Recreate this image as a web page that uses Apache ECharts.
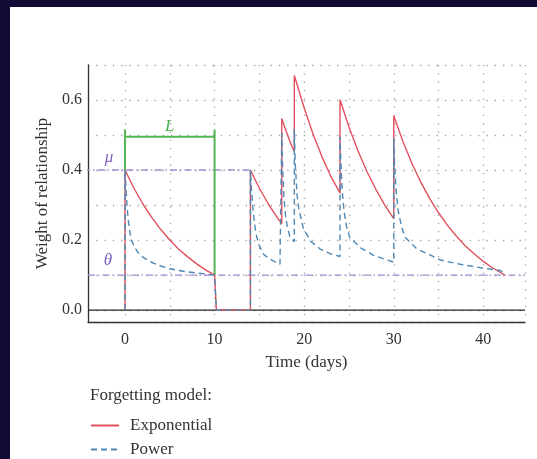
<!DOCTYPE html>
<html><head><meta charset="utf-8">
<script src="https://cdn.jsdelivr.net/npm/echarts@6/dist/echarts.min.js"></script>
<style>
html,body{margin:0;padding:0;background:#110b36;width:537px;height:459px;overflow:hidden}
#c{position:absolute;left:10px;top:7px;width:527px;height:452px;background:#fff}
</style></head><body><div id="c"></div>
<script>
// ---- data ----
const xTickLabels = [0, 10, 20, 30, 40];
const yTickLabels = [0, 0.2, 0.4, 0.6];
const xRange = [-4.13, 44.65];
const yRange = [-0.034, 0.7];
const muValue = 0.4;
const thetaValue = 0.1;
const legendNames = ['Exponential', 'Power'];

const exponentialData = [
  [0,0],[0,0.400],[1,0.348],[2,0.303],[3,0.264],[4,0.230],[5,0.200],[6,0.174],[7,0.152],[8,0.132],[9,0.115],[10,0.100],[10.2,0],
  [14,0],[14,0.400],[15,0.348],[16,0.303],[17,0.264],[17.5,0.247],
  [17.5,0.547],[18,0.510],[18.5,0.476],[18.9,0.452],
  [18.9,0.670],[19,0.662],[20,0.577],[21,0.502],[22,0.437],[23,0.381],[24,0.334],
  [24,0.601],[25,0.523],[26,0.455],[27,0.396],[28,0.345],[29,0.300],[30,0.261],
  [30,0.555],[31,0.483],[32,0.421],[33,0.366],[34,0.319],[35,0.278],[36,0.242],[37,0.211],[38,0.183],[39,0.160],[40,0.139],[41,0.121],[42,0.106],[42.4,0.100]
];

const powerData = [
  [0,0],[0,0.400],[0.1,0.350],[0.2,0.310],[0.35,0.260],[0.56,0.220],[0.8,0.195],[1.1,0.178],[1.5,0.163],[2,0.151],[3,0.136],[4,0.126],[5,0.118],[6,0.113],[7,0.109],[8,0.106],[9,0.103],[10,0.100],[10.2,0],
  [14,0],[14,0.400],[14.1,0.350],[14.3,0.283],[14.6,0.220],[14.9,0.189],[15.45,0.160],[16,0.148],[16.6,0.140],[17.3,0.131],[17.5,0.129],
  [17.5,0.506],[17.6,0.400],[17.75,0.320],[17.9,0.274],[18.1,0.240],[18.4,0.210],[18.9,0.195],
  [18.9,0.517],[19.0,0.420],[19.2,0.330],[19.4,0.290],[19.9,0.234],[20.7,0.197],[21.8,0.174],[22.9,0.161],[24,0.153],
  [24,0.495],[24.1,0.420],[24.25,0.340],[24.45,0.283],[24.75,0.235],[25.1,0.207],[26.3,0.178],[27.7,0.157],[29,0.145],[30,0.137],
  [30,0.490],[30.1,0.410],[30.3,0.330],[30.5,0.283],[30.9,0.235],[31.3,0.207],[32.6,0.174],[34.1,0.157],[35.2,0.143],[37.4,0.131],[39.7,0.121],[41.9,0.113],[42.4,0.103]
];

const lBracket = [[0,0.4],[0,0.516],[0,0.495],[5,0.495],[10,0.495],[10,0.516],[10,0.1]];
const muLine = [[-4.7, muValue], [14, muValue]];
const thetaLine = [[xRange[0], thetaValue], [xRange[1], thetaValue]];
const zeroLine = [[xRange[0], 0], [xRange[1], 0]];

// ---- chart ----
const FONT = '"Liberation Serif", "Times New Roman", serif';
const TXT = '#333';
const dotted = { color: '#a3a3a3', width: 1.3, type: [1.3, 7] };
function near(v, arr) { return arr.some(t => Math.abs(v - t) < 1e-6); }

const chart = echarts.init(document.getElementById('c'), null, { renderer: 'canvas' });

function labelled(arr, idx, lab) {
  return arr.map((p, i) => i === idx ? { value: p, label: lab } : p);
}

function legendFor(name, top) {
  return {
    orient: 'horizontal', left: 80, top: top, padding: 0,
    itemWidth: 28, itemHeight: 14,
    itemStyle: { color: 'rgba(0,0,0,0)', borderColor: 'rgba(0,0,0,0)', borderWidth: 0 },
    textStyle: { fontFamily: FONT, fontSize: 17, color: TXT, padding: [0, 0, 0, 6] },
    data: [name], selectedMode: false
  };
}

const option = {
  animation: false,
  backgroundColor: '#fff',
  title: {
    text: 'Forgetting model:', left: 80, top: 380, padding: 0,
    textStyle: { fontFamily: FONT, fontSize: 17, fontWeight: 'normal', color: TXT }
  },
  legend: [legendFor(legendNames[0], 410), legendFor(legendNames[1], 434)],
  grid: { left: 78, top: 58, right: 12, bottom: 137 },
  xAxis: {
    type: 'value', min: xRange[0], max: xRange[1],
    name: 'Time (days)', nameLocation: 'middle', nameGap: 32,
    nameTextStyle: { fontFamily: FONT, fontSize: 17, color: TXT },
    axisLine: { show: true, onZero: false, lineStyle: { color: '#333', width: 1.3 } },
    axisTick: { show: false },
    axisLabel: {
      formatter: v => near(v, xTickLabels) ? String(Math.round(v)) : '',
      fontFamily: FONT, fontSize: 16, color: TXT, margin: 10
    },
    splitLine: { show: true, lineStyle: dotted },
    minorTick: { show: false, splitNumber: 2 },
    minorSplitLine: { show: true, lineStyle: dotted }
  },
  yAxis: {
    type: 'value', min: yRange[0], max: yRange[1],
    name: 'Weight of relationship', nameLocation: 'middle', nameGap: 36,
    nameTextStyle: { fontFamily: FONT, fontSize: 17, color: TXT },
    axisLine: { show: true, onZero: false, lineStyle: { color: '#333', width: 1.3 } },
    axisTick: { show: false },
    axisLabel: {
      formatter: v => near(v, yTickLabels) ? v.toFixed(1) : '',
      fontFamily: FONT, fontSize: 16, color: TXT, margin: 6
    },
    splitLine: { show: true, lineStyle: dotted }
  },
  series: [
    {
      name: 'zero', type: 'line', data: zeroLine, symbol: 'none', silent: true,
      lineStyle: { color: '#222', width: 1.3 }, z: 1
    },
    {
      name: 'theta', type: 'line', silent: true,
      data: labelled(thetaLine, 0, { show: true, formatter: 'θ', position: 'top', offset: [20, -1],
        fontFamily: FONT, fontStyle: 'italic', fontSize: 17, color: '#7d5fbb' }),
      symbol: 'circle', symbolSize: 0, showSymbol: true,
      lineStyle: { color: '#a48bcf', width: 1.4, type: [7, 3, 1.5, 3] }, z: 2
    },
    {
      name: 'mu', type: 'line', silent: true, clip: false,
      data: labelled(muLine, 0, { show: true, formatter: 'μ', position: 'top', offset: [26, 1],
        fontFamily: FONT, fontStyle: 'italic', fontSize: 17, color: '#7d5fbb' }),
      symbol: 'circle', symbolSize: 0, showSymbol: true,
      lineStyle: { color: '#a48bcf', width: 1.4, type: [7, 3, 1.5, 3] }, z: 2
    },
    {
      name: 'L', type: 'line', silent: true,
      data: labelled(lBracket, 3, { show: true, formatter: 'L', position: 'top', distance: 2,
        fontFamily: FONT, fontStyle: 'italic', fontSize: 17, color: '#4fae4f' }),
      symbol: 'circle', symbolSize: 0, showSymbol: true,
      lineStyle: { color: '#55b555', width: 2 }, z: 3
    },
    {
      name: legendNames[0], type: 'line', data: exponentialData, symbol: 'none',
      color: '#e3505e', lineStyle: { color: '#e3505e', width: 1.4 }, z: 4
    },
    {
      name: legendNames[1], type: 'line', data: powerData, symbol: 'none',
      color: '#4f88b4', lineStyle: { color: '#4f88b4', width: 1.4, type: [6, 4] }, z: 5
    }
  ]
};
chart.setOption(option);
</script></body></html>
